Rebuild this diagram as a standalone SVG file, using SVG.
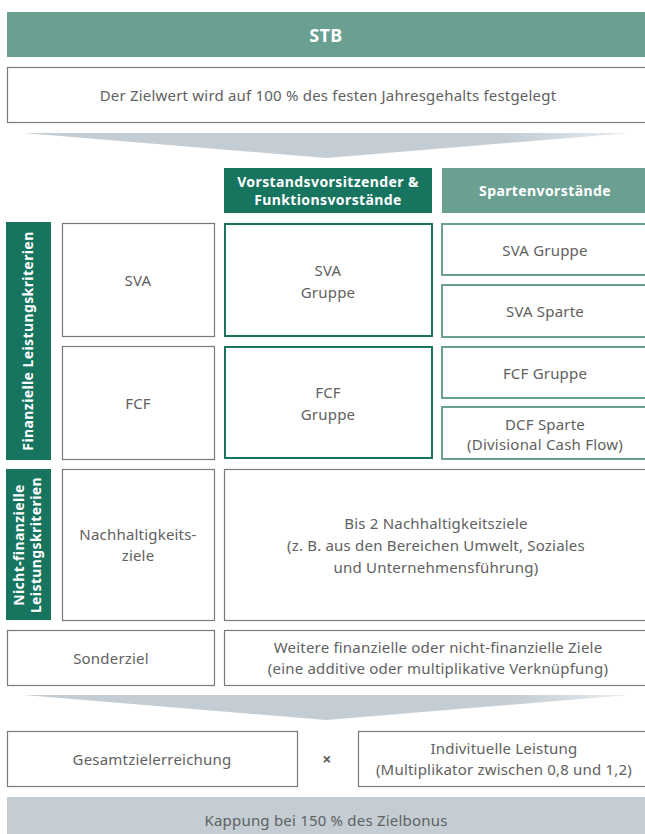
<svg xmlns="http://www.w3.org/2000/svg" width="645" height="834" viewBox="0 0 645 834">
<defs>
<linearGradient id="fun" x1="0" y1="0" x2="1" y2="0">
<stop offset="0" stop-color="#c3cdd3"/>
<stop offset="0.8" stop-color="#c3cdd3"/>
<stop offset="1" stop-color="#e9edf0"/>
</linearGradient>
<style>
text{font-family:"Noto Sans","Open Sans","Liberation Sans",sans-serif;font-size:15px;letter-spacing:0.2px;fill:#616161;text-anchor:middle}
.b{font-weight:bold;fill:#fff;font-size:14px;letter-spacing:0.4px}
.g{fill:#fff;stroke:#7a7a7a;stroke-width:1.2}
.dk{fill:#fff;stroke:#17745f;stroke-width:2}
.lt{fill:#fff;stroke:#6aa092;stroke-width:2}
.fd{fill:#17745f}
.fl{fill:#6aa092}
</style>
</defs>
<rect width="645" height="834" fill="#fff"/>
<g id="stb"><rect class="fl" x="7" y="12" width="645" height="45"/><text class="b" x="326" y="42" style="font-size:18px">STB</text></g>
<g id="zielwert"><rect class="g" x="7.5" y="67.5" width="645" height="55"/><text x="328" y="101">Der Zielwert wird auf 100 % des festen Jahresgehalts festgelegt</text></g>
<g id="connectors">
<polygon points="24,133 630,133 326,158" fill="url(#fun)"/>
<polygon points="24,695 630,695 326,720" fill="url(#fun)"/>
</g>
<g id="hdr-vorstand"><rect class="fd" x="224" y="168" width="208" height="45"/><text class="b" x="328" y="187">Vorstandsvorsitzender &amp;</text><text class="b" x="328" y="205">Funktionsvorstände</text></g>
<g id="hdr-sparten"><rect class="fl" x="442" y="168" width="210" height="45"/><text class="b" x="545" y="196">Spartenvorstände</text></g>
<g id="lbl-fin"><rect class="fd" x="6" y="222" width="45" height="238"/><text class="b" transform="translate(33,341) rotate(-90)">Finanzielle Leistungskriterien</text></g>
<g id="sva"><rect class="g" x="62.5" y="223.5" width="152" height="113"/><text x="138" y="286">SVA</text></g>
<g id="sva-gruppe-v"><rect class="dk" x="225" y="224" width="207" height="112"/><text x="328" y="276">SVA</text><text x="328" y="298">Gruppe</text></g>
<g id="sva-gruppe-s"><rect class="lt" x="442" y="224" width="210" height="51"/><text x="545" y="256">SVA Gruppe</text></g>
<g id="sva-sparte"><rect class="lt" x="442" y="285" width="210" height="52"/><text x="545" y="317">SVA Sparte</text></g>
<g id="fcf"><rect class="g" x="62.5" y="346.5" width="152" height="113"/><text x="138" y="409">FCF</text></g>
<g id="fcf-gruppe-v"><rect class="dk" x="225" y="347" width="207" height="111"/><text x="328" y="398">FCF</text><text x="328" y="420">Gruppe</text></g>
<g id="fcf-gruppe-s"><rect class="lt" x="442" y="347" width="210" height="51"/><text x="545" y="379">FCF Gruppe</text></g>
<g id="dcf-sparte"><rect class="lt" x="442" y="407" width="210" height="52"/><text x="545" y="430">DCF Sparte</text><text x="545" y="450">(Divisional Cash Flow)</text></g>
<g id="lbl-nicht"><rect class="fd" x="6" y="469" width="45" height="151"/><text class="b" transform="translate(24,545) rotate(-90)">Nicht-finanzielle</text><text class="b" transform="translate(41,545) rotate(-90)">Leistungskriterien</text></g>
<g id="nachhaltig"><rect class="g" x="62.5" y="469.5" width="152" height="151"/><text x="138" y="540">Nachhaltigkeits-</text><text x="138" y="561">ziele</text></g>
<g id="bis2"><rect class="g" x="224.5" y="469.5" width="430" height="151"/><text x="436" y="529">Bis 2 Nachhaltigkeitsziele</text><text x="436" y="551">(z. B. aus den Bereichen Umwelt, Soziales</text><text x="436" y="573">und Unternehmensführung)</text></g>
<g id="sonderziel"><rect class="g" x="7.5" y="630.5" width="207" height="55"/><text x="111" y="664">Sonderziel</text></g>
<g id="weitere"><rect class="g" x="224.5" y="630.5" width="430" height="55"/><text x="438" y="653">Weitere finanzielle oder nicht-finanzielle Ziele</text><text x="438" y="674">(eine additive oder multiplikative Verknüpfung)</text></g>
<g id="gesamt"><rect class="g" x="7.5" y="731.5" width="290" height="55"/><text x="152" y="765">Gesamtzielerreichung</text></g>
<g id="mal"><text x="327" y="765" style="font-size:16px;font-weight:bold">×</text></g>
<g id="indiv"><rect class="g" x="358.5" y="731.5" width="296" height="55"/><text x="504" y="754">Indivituelle Leistung</text><text x="504" y="775">(Multiplikator zwischen 0,8 und 1,2)</text></g>
<g id="kappung"><rect x="7" y="797" width="645" height="40" fill="#c3cdd3"/><text x="326" y="826">Kappung bei 150 % des Zielbonus</text></g>
</svg>
